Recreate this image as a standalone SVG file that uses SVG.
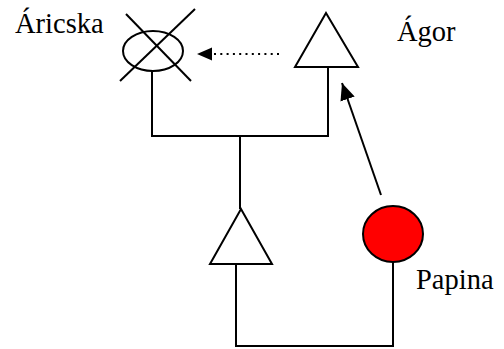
<svg xmlns="http://www.w3.org/2000/svg" width="504" height="349" viewBox="0 0 504 349">
  <style>
    .shape { fill: #fff; stroke: #000; stroke-width: 2; }
    .line { fill: none; stroke: #000; stroke-width: 2; }
    .label { font-family: "Liberation Serif", "Times New Roman", serif; font-size: 28.5px; fill: #000; }
  </style>
  <defs>
    <marker id="headLarge" markerWidth="17" markerHeight="15" refX="17" refY="7.5" orient="auto" markerUnits="userSpaceOnUse">
      <path d="M0,0 L17,7.5 L0,15 z" fill="#000"/>
    </marker>
  </defs>

  <rect width="504" height="349" fill="#fff"/>

  <!-- connectors -->
  <g id="connectors">
    <polyline class="line" points="152,71 152,136 328,136 328,67"/>
    <line class="line" x1="240" y1="136" x2="240" y2="209"/>
    <polyline class="line" points="236,264 236,346 393,346 393,262"/>
    <line class="line" x1="279" y1="54" x2="212" y2="54" stroke-dasharray="2 4.3"/>
    <path d="M197,54 L212,47.5 L212,60.5 z" fill="#000"/>
    <line class="line" x1="381" y1="195" x2="342" y2="83" stroke-width="2.6" marker-end="url(#headLarge)"/>
  </g>

  <!-- Áricska: deceased female -->
  <g id="aricska">
    <ellipse class="shape" cx="153" cy="51" rx="30" ry="20"/>
    <line class="line" x1="126" y1="14" x2="191" y2="81"/>
    <line class="line" x1="195" y1="9" x2="120" y2="81"/>
    <text class="label" x="15" y="33">Áricska</text>
  </g>

  <!-- Ágor -->
  <g id="agor">
    <polygon class="shape" points="326,13 358,67 295,67"/>
    <text class="label" x="397" y="41">Ágor</text>
  </g>

  <!-- child -->
  <g id="child">
    <polygon class="shape" points="241,209 272,264 210,264"/>
  </g>

  <!-- Papina -->
  <g id="papina">
    <ellipse cx="393" cy="234" rx="30" ry="28" fill="#ff0000" stroke="#000" stroke-width="2"/>
    <text class="label" x="416" y="289">Papina</text>
  </g>
</svg>
